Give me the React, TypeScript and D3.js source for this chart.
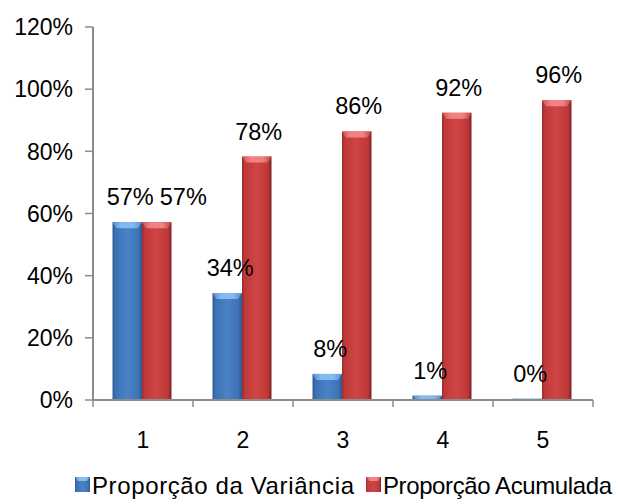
import { useEffect, useRef } from "react";
import * as d3 from "d3";

const categories = ["1", "2", "3", "4", "5"];
const variancia = [57.2, 34.4, 8.4, 1.4, 0.4];
const acumulada = [57.2, 78.3, 86.4, 92.4, 96.4];
const yTicks = [0, 20, 40, 60, 80, 100, 120];
const seriesNames = ["Proporção da Variância", "Proporção Acumulada"];

const FONT = "'Liberation Sans', Arial, sans-serif";

export default function App() {
  const svgRef = useRef<SVGSVGElement>(null);

  useEffect(() => {
    if (!svgRef.current) return;
    const width = 618;
    const height = 504;
    const margin = { top: 27, right: 25, bottom: 104, left: 93 };
    const innerHeight = height - margin.top - margin.bottom;

    d3.select(svgRef.current).selectAll("*").remove();
    const svg = d3.select(svgRef.current).attr("width", width).attr("height", height);

    // gradients
    const defs = svg.append("defs");
    const makeGrad = (id: string, stops: [number, string][]) => {
      const g = defs
        .append("linearGradient")
        .attr("id", id)
        .attr("x1", "0%")
        .attr("y1", "0%")
        .attr("x2", "100%")
        .attr("y2", "0%");
      stops.forEach(([o, c]) => g.append("stop").attr("offset", `${o}%`).attr("stop-color", c));
    };
    makeGrad("blue-body", [
      [0, "#2d5a94"],
      [10, "#3d70b2"],
      [50, "#4a83c9"],
      [88, "#3e72b4"],
      [100, "#2c5890"],
    ]);
    makeGrad("red-body", [
      [0, "#9a2c2c"],
      [10, "#c03a3a"],
      [50, "#d04444"],
      [88, "#bd3838"],
      [100, "#7e2020"],
    ]);
    makeGrad("blue-cap", [
      [0, "#5b8fd0"],
      [30, "#86bdf2"],
      [70, "#86bdf2"],
      [100, "#5b8fd0"],
    ]);
    makeGrad("red-cap", [
      [0, "#d85050"],
      [30, "#f28585"],
      [70, "#f28585"],
      [100, "#c84040"],
    ]);

    const g = svg.append("g").attr("transform", `translate(${margin.left},${margin.top})`);

    const x = d3.scaleBand().domain(categories).range([0, 500]).paddingInner(0).paddingOuter(0);
    const y = d3.scaleLinear().domain([0, 120]).range([innerHeight, 0]);
    const barW = 29.5;

    const series = [
      { values: variancia, body: "url(#blue-body)", cap: "url(#blue-cap)", offset: -barW },
      { values: acumulada, body: "url(#red-body)", cap: "url(#red-cap)", offset: 0 },
    ];

    // bars
    series.forEach((s) => {
      categories.forEach((c, i) => {
        const cx = (x(c) as number) + x.bandwidth() / 2 - 1 + s.offset;
        const top = y(s.values[i]);
        const h = innerHeight - top;
        g.append("rect")
          .attr("x", cx)
          .attr("y", top)
          .attr("width", barW)
          .attr("height", h)
          .attr("fill", s.body);
        const capH = Math.min(6, h);
        g.append("path")
          .attr(
            "d",
            `M${cx},${top} L${cx + barW},${top} L${cx + barW - 4},${top + capH} L${cx + 4},${top + capH} Z`
          )
          .attr("fill", s.cap)
          .attr("opacity", 0.95);
      });
    });

    // y axis
    const axisColor = "#8c8c8c";
    g.append("line")
      .attr("x1", 0)
      .attr("x2", 0)
      .attr("y1", y(120))
      .attr("y2", y(0))
      .attr("stroke", axisColor)
      .attr("stroke-width", 2);
    yTicks.forEach((t) => {
      g.append("line")
        .attr("x1", -8)
        .attr("x2", 0)
        .attr("y1", y(t))
        .attr("y2", y(t))
        .attr("stroke", axisColor)
        .attr("stroke-width", 1.5);
      g.append("text")
        .attr("x", -20)
        .attr("y", y(t))
        .attr("dy", "0.36em")
        .attr("text-anchor", "end")
        .attr("font-family", FONT)
        .attr("font-size", 23)
        .attr("fill", "#000")
        .text(`${t}%`);
    });

    // x axis
    g.append("line")
      .attr("x1", 0)
      .attr("x2", 500)
      .attr("y1", innerHeight)
      .attr("y2", innerHeight)
      .attr("stroke", axisColor)
      .attr("stroke-width", 2);
    [0, ...categories.map((c) => (x(c) as number) + x.bandwidth())].forEach((px) => {
      g.append("line")
        .attr("x1", px)
        .attr("x2", px)
        .attr("y1", innerHeight)
        .attr("y2", innerHeight + 7)
        .attr("stroke", axisColor)
        .attr("stroke-width", 1.5);
    });
    categories.forEach((c) => {
      g.append("text")
        .attr("x", (x(c) as number) + x.bandwidth() / 2)
        .attr("y", innerHeight + 40)
        .attr("dy", "0.36em")
        .attr("text-anchor", "middle")
        .attr("font-family", FONT)
        .attr("font-size", 23)
        .text(c);
    });

    // value labels
    categories.forEach((c, i) => {
      const center = (x(c) as number) + x.bandwidth() / 2 - 1;
      const bx = center - barW / 2 + 3;
      const rx = center + barW / 2 + 2;
      const bt = g
        .append("text")
        .attr("x", bx)
        .attr("y", y(variancia[i]) - 17)
        .attr("text-anchor", "middle")
        .attr("font-family", FONT)
        .attr("font-size", 23.5)
        .text(`${Math.round(variancia[i])}%`);
      const rt = g
        .append("text")
        .attr("y", y(acumulada[i]) - 17)
        .attr("text-anchor", "middle")
        .attr("font-family", FONT)
        .attr("font-size", 23.5)
        .text(`${Math.round(acumulada[i])}%`);
      const bw = (bt.node() as SVGTextElement).getComputedTextLength();
      const rw = (rt.node() as SVGTextElement).getComputedTextLength();
      let rxPos = rx;
      // shift the second label right when both sit on the same line
      if (Math.abs(y(variancia[i]) - y(acumulada[i])) < 24) {
        rxPos = Math.max(rx, bx + bw / 2 + 6 + rw / 2);
      }
      rt.attr("x", rxPos);
    });

    // legend
    const legend = svg.append("g").attr("transform", `translate(0,${height - 12})`);
    const items = [
      { x: 75, name: seriesNames[0], body: "url(#blue-body)", cap: "url(#blue-cap)", len: 262 },
      { x: 366, name: seriesNames[1], body: "url(#red-body)", cap: "url(#red-cap)", len: 229 },
    ];
    items.forEach((it) => {
      legend
        .append("rect")
        .attr("x", it.x)
        .attr("y", -15)
        .attr("width", 15)
        .attr("height", 15)
        .attr("fill", it.body);
      legend
        .append("path")
        .attr("d", `M${it.x},-15 L${it.x + 15},-15 L${it.x + 12},-11 L${it.x + 3},-11 Z`)
        .attr("fill", it.cap);
      legend
        .append("text")
        .attr("x", it.x + 17)
        .attr("y", 0)
        .attr("dy", "0.1em")
        .attr("font-family", FONT)
        .attr("font-size", 24)
        .attr("textLength", it.len)
        .attr("lengthAdjust", "spacing")
        .text(it.name);
    });
  }, []);

  return (
    <svg
      ref={svgRef}
      style={{ position: "absolute", left: 0, top: 0, background: "#fff" }}
    />
  );
}
